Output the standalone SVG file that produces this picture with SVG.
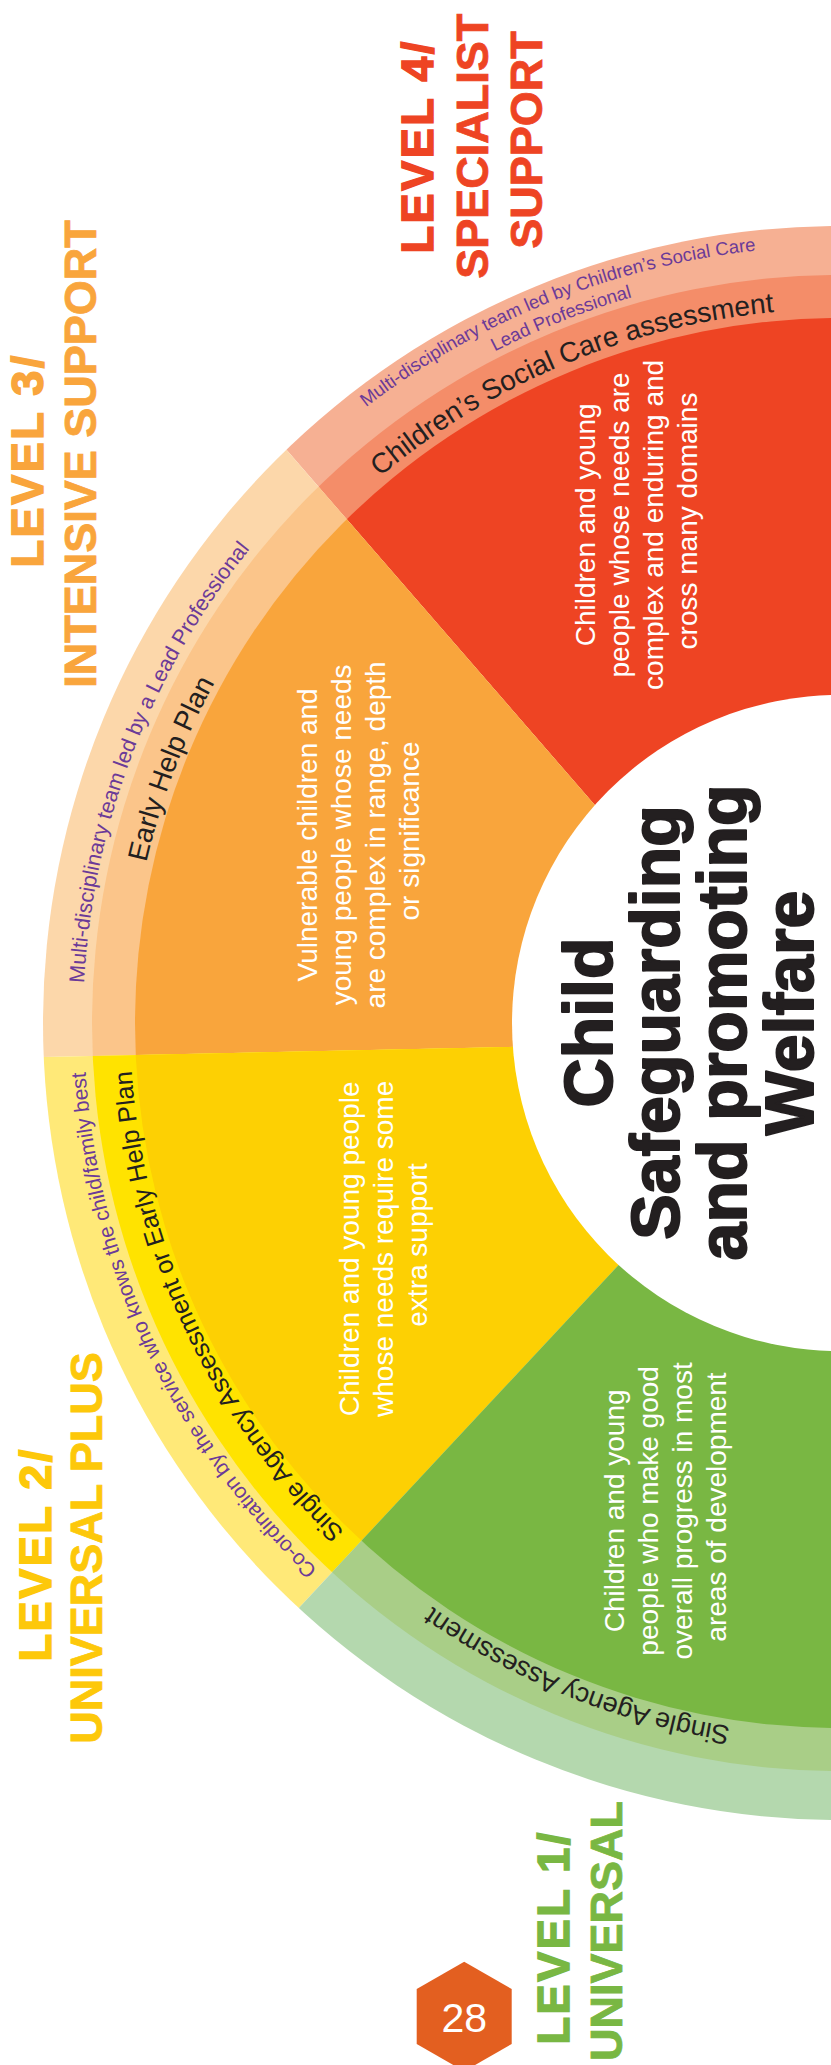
<svg xmlns="http://www.w3.org/2000/svg" width="831" height="2065" viewBox="0 0 831 2065">
<style>
.lbl{font-family:"Liberation Sans",Arial,sans-serif;font-weight:bold;font-size:45px}
.lv{letter-spacing:2.5px}
.desc{font-family:"Liberation Sans",Arial,sans-serif;font-size:28px;fill:#ffffff}
.ring{font-family:"Liberation Sans",Arial,sans-serif;fill:#231f20}
.outer{font-family:"Liberation Sans",Arial,sans-serif;fill:#6b3a98}
.title{font-family:"Liberation Sans",Arial,sans-serif;font-weight:bold;font-size:68px;fill:#231f20;stroke:#231f20;stroke-width:2;stroke-linejoin:round}
</style>
<defs>
<clipPath id="c0"><circle cx="840" cy="1023" r="797"/></clipPath>
<clipPath id="c1"><circle cx="840" cy="1023" r="748"/></clipPath>
<clipPath id="c2"><circle cx="840" cy="1023" r="705"/></clipPath>
<polygon id="w4" points="133.4,273.4 746.6,980 900,1000 900,-50 133.4,-50"/>
<polygon id="w3" points="133.4,273.4 746.6,980 746.6,1042 -50,1059 -50,273.4"/>
<polygon id="w2" points="-50,1059 746.6,1042 746,1128.6 137.2,1781.2 -50,1781.2"/>
<polygon id="w1" points="137.2,1781.2 746,1128.6 900,1100 900,2100 137.2,2100"/>
<path id="p4a" d="M70.75,913.52 A777,777 0 0 1 1319.44,411.56"/>
<path id="p4b" d="M93.10,912.71 A755,755 0 0 1 1308.97,431.31"/>
<path id="p4c" d="M131.79,932.28 A714,714 0 0 1 1272.68,455.03"/>
<path id="p3a" d="M252.53,1500.33 A757,757 0 0 1 720.27,275.53"/>
<path id="p3b" d="M288.24,1472.93 A712,712 0 0 1 726.17,320.16"/>
<path id="p2a" d="M774.11,1776.12 A756,756 0 0 1 220.72,589.37"/>
<path id="p2b" d="M775.65,1730.07 A710,710 0 0 1 259.83,613.73"/>
<path id="p1b" d="M1279.33,1583.29 A712,712 0 0 1 135.11,1123.32"/>
</defs>

<g id="level4">
<use href="#w4" fill="#f6b093" clip-path="url(#c0)"/>
<use href="#w4" fill="#f48d69" clip-path="url(#c1)"/>
<use href="#w4" fill="#ee4423" clip-path="url(#c2)"/>
<text class="outer" font-size="18.5"><textPath href="#p4a" startOffset="50%" text-anchor="middle">Multi-disciplinary team led by Children’s Social Care</textPath></text>
<text class="outer" font-size="18.5"><textPath href="#p4b" startOffset="50%" text-anchor="middle">Lead Professional</textPath></text>
<text class="ring" font-size="28"><textPath href="#p4c" startOffset="50%" text-anchor="middle">Children’s Social Care assessment</textPath></text>
</g>

<g id="level3">
<use href="#w3" fill="#fcd7aa" clip-path="url(#c0)"/>
<use href="#w3" fill="#fbc58a" clip-path="url(#c1)"/>
<use href="#w3" fill="#f9a53c" clip-path="url(#c2)"/>
<text class="outer" font-size="21.5"><textPath href="#p3a" startOffset="50%" text-anchor="middle">Multi-disciplinary team led by a Lead Professional</textPath></text>
<text class="ring" font-size="28"><textPath href="#p3b" startOffset="50%" text-anchor="middle">Early Help Plan</textPath></text>
</g>

<g id="level2">
<use href="#w2" fill="#ffe978" clip-path="url(#c0)"/>
<use href="#w2" fill="#ffe300" clip-path="url(#c1)"/>
<use href="#w2" fill="#fdd003" clip-path="url(#c2)"/>
<text class="outer" font-size="21"><textPath href="#p2a" startOffset="50%" text-anchor="middle">Co-ordination by the service who knows the child/family best</textPath></text>
<text class="ring" font-size="25.5"><textPath href="#p2b" startOffset="50%" text-anchor="middle">Single Agency Assessment or Early Help Plan</textPath></text>
</g>

<g id="level1">
<use href="#w1" fill="#b4d8ae" clip-path="url(#c0)"/>
<use href="#w1" fill="#a9ce87" clip-path="url(#c1)"/>
<use href="#w1" fill="#79b743" clip-path="url(#c2)"/>
<text class="ring" font-size="27"><textPath href="#p1b" startOffset="50%" text-anchor="middle">Single Agency Assessment</textPath></text>
</g>

<g id="centre">
<circle cx="840" cy="1023" r="328" fill="#ffffff"/>
<text class="title" text-anchor="middle" transform="translate(612,1013) rotate(-90)">
<tspan x="0" y="0">Child</tspan>
<tspan x="0" y="67">Safeguarding</tspan>
<tspan x="0" y="134">and promoting</tspan>
<tspan x="0" y="201">Welfare</tspan>
</text>
</g>

<g id="descriptions">
<text class="desc" text-anchor="middle" transform="translate(595,521) rotate(-90)">
<tspan x="0" y="0">Children and young</tspan>
<tspan x="0" y="34">people whose needs are</tspan>
<tspan x="0" y="68">complex and enduring and</tspan>
<tspan x="0" y="102">cross many domains</tspan>
</text>
<text class="desc" text-anchor="middle" transform="translate(317,831) rotate(-90)">
<tspan x="0" y="0">Vulnerable children and</tspan>
<tspan x="0" y="34">young people whose needs</tspan>
<tspan x="0" y="68">are complex in range, depth</tspan>
<tspan x="0" y="102">or significance</tspan>
</text>
<text class="desc" text-anchor="middle" transform="translate(359,1245) rotate(-90)">
<tspan x="0" y="0">Children and young people</tspan>
<tspan x="0" y="34">whose needs require some</tspan>
<tspan x="0" y="68">extra support</tspan>
</text>
<text class="desc" text-anchor="middle" transform="translate(624,1507) rotate(-90)">
<tspan x="0" y="0">Children and young</tspan>
<tspan x="0" y="34">people who make good</tspan>
<tspan x="0" y="68">overall progress in most</tspan>
<tspan x="0" y="102">areas of development</tspan>
</text>
</g>

<g id="labels">
<text class="lbl" fill="#ee4423" stroke="#ee4423" stroke-width="0.8" text-anchor="middle" transform="translate(433,140) rotate(-90)">
<tspan class="lv" x="0" y="0" stroke-width="1.6">LEVEL 4/</tspan>
<tspan x="0" y="55">SPECIALIST</tspan>
<tspan x="0" y="109">SUPPORT</tspan>
</text>
<text class="lbl" fill="#f9a53c" stroke="#f9a53c" stroke-width="0.8" text-anchor="middle" transform="translate(43,454) rotate(-90)">
<tspan class="lv" x="0" y="0" stroke-width="1.6">LEVEL 3/</tspan>
<tspan x="0" y="53">INTENSIVE SUPPORT</tspan>
</text>
<text class="lbl" fill="#fdc80a" stroke="#fdc80a" stroke-width="0.8" text-anchor="middle" transform="translate(51,1548) rotate(-90)">
<tspan class="lv" x="0" y="0" stroke-width="1.6">LEVEL 2/</tspan>
<tspan x="0" y="51">UNIVERSAL PLUS</tspan>
</text>
<text class="lbl" fill="#79b743" stroke="#79b743" stroke-width="0.8" text-anchor="middle" transform="translate(569,1931) rotate(-90)">
<tspan class="lv" x="0" y="0" stroke-width="1.6">LEVEL 1/</tspan>
<tspan x="0" y="53">UNIVERSAL</tspan>
</text>
</g>

<g id="page-badge">
<polygon points="464.2,1961.7 511.7,1989.1 511.7,2043.9 464.2,2071.3 416.7,2043.9 416.7,1989.1" fill="#e35f20"/>
<text x="464.2" y="2031.5" text-anchor="middle" font-family="Liberation Sans, Arial, sans-serif" font-size="41" fill="#ffffff">28</text>
</g>
</svg>
